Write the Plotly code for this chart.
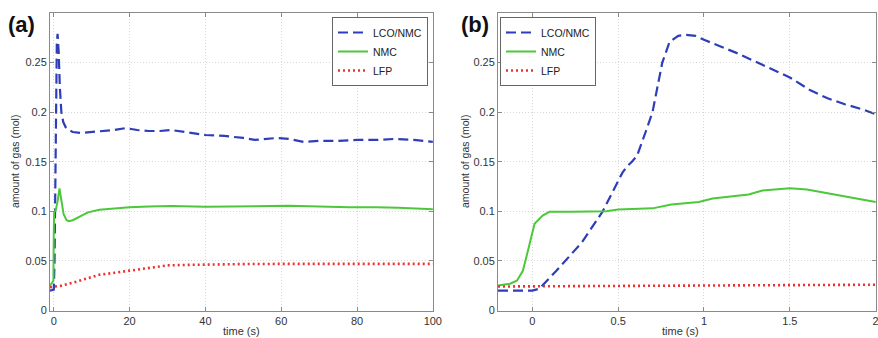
import plotly.graph_objects as go

# ---------------- data ----------------
# Panel (a): 0-100 s
a_lco_t = [-1, 0, 0.2, 0.4, 0.6, 0.8, 1.0, 1.3, 1.6, 2.0, 2.5, 3.1, 4, 5, 7, 10, 13, 16, 19,
           22, 25, 28, 31, 35, 40, 45, 50, 53, 56, 59, 62, 66, 70, 75, 80, 85, 90, 95, 100]
a_lco = [0.020, 0.021, 0.05, 0.12, 0.21, 0.27, 0.279, 0.26, 0.225, 0.200, 0.190, 0.185, 0.182,
         0.180, 0.179, 0.180, 0.181, 0.182, 0.184, 0.182, 0.181, 0.181, 0.182, 0.180, 0.177,
         0.176, 0.174, 0.172, 0.173, 0.174, 0.173, 0.170, 0.171, 0.171, 0.172, 0.172, 0.173,
         0.172, 0.170]

a_nmc_t = [-1, -0.1, 0, 0.1, 0.5, 1.0, 1.5, 2.0, 2.6, 3.4, 4, 5, 6, 7.5, 9, 12, 16, 20, 25,
           31, 40, 46, 52, 62, 70, 78, 85, 91, 100]
a_nmc = [0.025, 0.030, 0.080, 0.0995, 0.101, 0.110, 0.123, 0.112, 0.097, 0.091, 0.090, 0.091,
         0.093, 0.0965, 0.099, 0.1015, 0.103, 0.104, 0.105, 0.1055, 0.1045, 0.105, 0.105,
         0.1057, 0.105, 0.104, 0.104, 0.1035, 0.102]

a_lfp_t = [-1, 2, 5, 7.5, 10, 12, 16, 20, 23, 26.5, 30, 35, 40, 50, 60, 70, 80, 90, 100]
a_lfp = [0.0235, 0.025, 0.028, 0.031, 0.034, 0.036, 0.038, 0.040, 0.042, 0.0437, 0.0455,
         0.046, 0.0465, 0.0468, 0.047, 0.0472, 0.047, 0.047, 0.047]

# Panel (b): -0.2-2 s
b_lco_t = [-0.2, 0.0, 0.04, 0.14, 0.29, 0.41, 0.525, 0.55, 0.58, 0.61, 0.66, 0.70, 0.757, 0.80,
           0.85, 0.89, 0.95, 1.0, 1.2, 1.39, 1.5, 1.62, 1.72, 1.82, 1.92, 2.0]
b_lco = [0.020, 0.020, 0.022, 0.040, 0.069, 0.100, 0.139, 0.145, 0.150, 0.156, 0.180, 0.200,
         0.250, 0.271, 0.277, 0.278, 0.277, 0.273, 0.259, 0.244, 0.235, 0.222, 0.214, 0.208,
         0.203, 0.198]

b_nmc_t = [-0.2, -0.13, -0.09, -0.055, -0.016, 0.013, 0.06, 0.1, 0.23, 0.43, 0.5, 0.7, 0.81,
           0.97, 1.05, 1.2, 1.26, 1.34, 1.5, 1.6, 1.78, 2.0]
b_nmc = [0.0252, 0.027, 0.030, 0.040, 0.067, 0.0875, 0.0958, 0.0995, 0.0995, 0.100, 0.1018,
         0.103, 0.1068, 0.1095, 0.113, 0.1164, 0.117, 0.121, 0.1232, 0.122, 0.1164, 0.1095]

b_lfp_t = [-0.2, 0.5, 1.0, 1.5, 2.0]
b_lfp = [0.0242, 0.0247, 0.0252, 0.0256, 0.026]

series_names = ["LCO/NMC", "NMC", "LFP"]
colors = ["#2e3db8", "#4cc83a", "#f03030"]
dashes = ["10px,5px", "solid", "2px,3px"]
widths = [2.2, 2.0, 2.6]

y_ticks = [0, 0.05, 0.1, 0.15, 0.2, 0.25]
a_x_ticks = [0, 20, 40, 60, 80, 100]
b_x_ticks = [0, 0.5, 1, 1.5, 2]

W, H = 878, 338
FONT = "Liberation Sans, Arial, sans-serif"

fig = go.Figure()

panel_a = [(a_lco_t, a_lco), (a_nmc_t, a_nmc), (a_lfp_t, a_lfp)]
panel_b = [(b_lco_t, b_lco), (b_nmc_t, b_nmc), (b_lfp_t, b_lfp)]

for i, (t, v) in enumerate(panel_a):
    fig.add_trace(go.Scatter(x=t, y=v, mode="lines", name=series_names[i],
                             line=dict(color=colors[i], dash=dashes[i], width=widths[i]),
                             xaxis="x", yaxis="y", legend="legend"))
for i, (t, v) in enumerate(panel_b):
    fig.add_trace(go.Scatter(x=t, y=v, mode="lines", name=series_names[i],
                             line=dict(color=colors[i], dash=dashes[i], width=widths[i]),
                             xaxis="x2", yaxis="y2", legend="legend2"))

def px_x(p):
    return p / W

def px_y(p):
    return (H - p) / H

ydom = [px_y(310.5), px_y(13)]

axis_common = dict(
    showline=True, linecolor="#8a8a8a", linewidth=1, mirror="ticks",
    ticks="inside", ticklen=4, tickcolor="#8a8a8a",
    showgrid=True, gridcolor="#d8d8d8", griddash="1px,2px", gridwidth=1,
    zeroline=False, automargin=False, ticklabeloverflow="allow",
    tickfont=dict(family=FONT, size=11, color="#333333"),
)

fig.update_layout(
    width=W, height=H,
    margin=dict(l=0, r=0, t=0, b=0, autoexpand=False),
    paper_bgcolor="white", plot_bgcolor="white",
    font=dict(family=FONT, size=11, color="#333333"),
    xaxis=dict(domain=[px_x(50), px_x(433)], range=[-1, 100.05], tickvals=a_x_ticks,
               anchor="y", **axis_common),
    yaxis=dict(domain=ydom, range=[0, 0.3], tickvals=y_ticks, anchor="x", **axis_common),
    xaxis2=dict(domain=[px_x(498), px_x(876)], range=[-0.2, 2.002], tickvals=b_x_ticks,
                anchor="y2", **axis_common),
    yaxis2=dict(domain=ydom, range=[0, 0.3], tickvals=y_ticks, anchor="x2", **axis_common),
    legend=dict(x=px_x(428), y=px_y(17), xanchor="right", yanchor="top",
                bgcolor="white", bordercolor="#666666", borderwidth=1,
                font=dict(family=FONT, size=10.5, color="#222222"), itemwidth=30,
                tracegroupgap=0),
    legend2=dict(x=px_x(500), y=px_y(17), xanchor="left", yanchor="top",
                 bgcolor="white", bordercolor="#666666", borderwidth=1,
                 font=dict(family=FONT, size=10.5, color="#222222"), itemwidth=30,
                 tracegroupgap=0),
    showlegend=True,
)

ann = []
# panel letters
ann.append(dict(text="<b>(a)</b>", x=px_x(21), y=px_y(24), xref="paper", yref="paper",
                xanchor="center", yanchor="middle", showarrow=False,
                font=dict(family=FONT, size=22, color="#111111")))
ann.append(dict(text="<b>(b)</b>", x=px_x(475), y=px_y(24), xref="paper", yref="paper",
                xanchor="center", yanchor="middle", showarrow=False,
                font=dict(family=FONT, size=22, color="#111111")))
# axis titles
for xc in (15, 465):
    ann.append(dict(text="amount of gas (mol)", x=px_x(xc), y=px_y(162), xref="paper",
                    yref="paper", xanchor="center", yanchor="middle", textangle=-90,
                    showarrow=False, font=dict(family=FONT, size=10.5, color="#333333")))
for xc in (241, 680):
    ann.append(dict(text="time (s)", x=px_x(xc), y=px_y(331), xref="paper", yref="paper",
                    xanchor="center", yanchor="middle", showarrow=False,
                    font=dict(family=FONT, size=11, color="#333333")))
fig.update_layout(annotations=ann)

fig.write_html("out.html", config={"displayModeBar": False},
               post_script="document.body.style.margin='0';document.body.style.overflow='hidden';")
